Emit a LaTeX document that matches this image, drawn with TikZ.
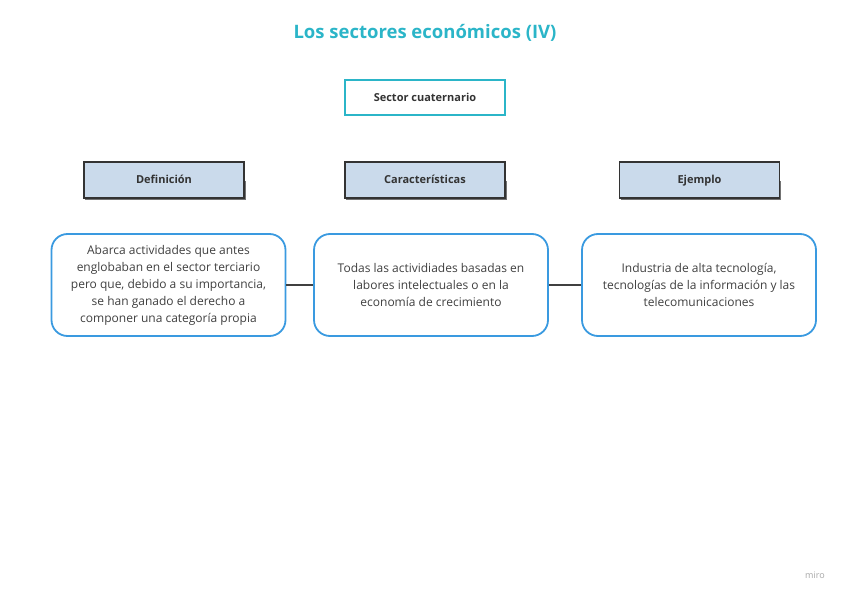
\documentclass[tikz,border=0pt]{standalone}
\usepackage{fontspec}
\setmainfont{Open Sans}
\definecolor{teal1}{HTML}{2BB5C8}
\definecolor{hdr}{HTML}{CADAEB}
\definecolor{blu}{HTML}{3A9AE0}
\begin{document}
\begin{tikzpicture}[x=1pt,y=-1pt,
 hbox/.style={draw=black!80,line width=1.6pt,fill=hdr,minimum width=160pt,minimum height=36pt,text height=8pt,text depth=2pt,font=\fontsize{11}{13}\selectfont\bfseries,text=black!80},
 cbox/.style={draw=blu,line width=1.8pt,rounded corners=16pt,fill=white,minimum width=234pt,minimum height=102pt,align=center,inner sep=1pt,font=\fontsize{12}{17}\selectfont,text=black!75},
 conn/.style={draw=black!75,line width=1.8pt}]
\useasboundingbox (0,0) rectangle (848,599);
\node (title) at (425,33) {\fontsize{18.5}{22}\selectfont\bfseries\color{teal1}Los sectores económicos (IV)};
\node[draw=teal1,line width=1.6pt,minimum width=160pt,minimum height=35pt,font=\fontsize{11}{13}\selectfont\bfseries,text=black!80] (sec) at (425,97.5) {Sector cuaternario};
\foreach \n/\x/\t in {d/164/Definición,c/425/Características,e/699.5/Ejemplo}{
 \fill[black!55] (\x-79,181) rectangle (\x+81.5,199.5);
 \node[hbox] (h\n) at (\x,180) {\t};}
\node[cbox] (a) at (168.5,285) {Abarca actividades que antes\\englobaban en el sector terciario\\pero que, debido a su importancia,\\se han ganado el derecho a\\componer una categoría propia};
\node[cbox] (b) at (431,285) {Todas las actividiades basadas en\\labores intelectuales o en la\\economía de crecimiento};
\node[cbox] (c) at (699,285) {Industria de alta tecnología,\\tecnologías de la información y las\\telecomunicaciones};
\draw[conn] (a.east) -- (b.west);
\draw[conn] (b.east) -- (c.west);
\node[text=black!35,font=\fontsize{9}{10}\selectfont] (miro) at (815,575) {miro};
\end{tikzpicture}
\end{document}
